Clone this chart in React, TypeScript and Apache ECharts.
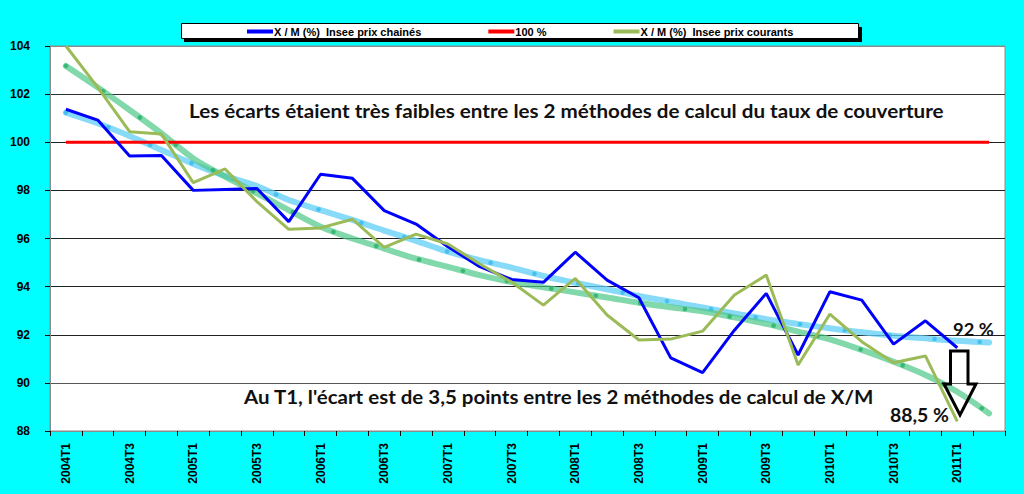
import React, { useEffect, useRef } from "react";
import * as echarts from "echarts";

const categories = [
  "2004T1", "2004T2", "2004T3", "2004T4",
  "2005T1", "2005T2", "2005T3", "2005T4",
  "2006T1", "2006T2", "2006T3", "2006T4",
  "2007T1", "2007T2", "2007T3", "2007T4",
  "2008T1", "2008T2", "2008T3", "2008T4",
  "2009T1", "2009T2", "2009T3", "2009T4",
  "2010T1", "2010T2", "2010T3", "2010T4",
  "2011T1", "2011T2",
];

const chained = [
  101.37, 100.92, 99.43, 99.45, 98.0, 98.04, 98.08, 96.7, 98.67, 98.5,
  97.16, 96.6, 95.66, 94.83, 94.3, 94.18, 95.43, 94.27, 93.54, 91.04,
  90.43, 92.19, 93.72, 91.16, 93.79, 93.44, 91.61, 92.58, 91.46,
];

const current = [
  104.0, 102.28, 100.44, 100.34, 98.32, 98.89, 97.53, 96.38, 96.44, 96.8,
  95.63, 96.18, 95.77, 94.94, 94.19, 93.23, 94.34, 92.82, 91.78, 91.82,
  92.15, 93.65, 94.48, 90.74, 92.86, 91.71, 90.84, 91.12, 88.4,
];

const hundred = [
  100, 100, 100, 100, 100, 100, 100, 100, 100, 100,
  100, 100, 100, 100, 100, 100, 100, 100, 100, 100,
  100, 100, 100, 100, 100, 100, 100, 100, 100, 100,
];

const chainedTrend = [
  101.23, 100.79, 100.26, 99.68, 99.1, 98.6, 98.18, 97.6, 97.18, 96.77,
  96.33, 95.9, 95.45, 95.1, 94.79, 94.44, 94.16, 93.89, 93.61, 93.37,
  93.13, 92.89, 92.65, 92.45, 92.27, 92.1, 91.96, 91.85, 91.75, 91.68,
];

const currentTrend = [
  103.17, 102.28, 101.34, 100.37, 99.33, 98.57, 97.88, 97.18, 96.49, 96.0,
  95.58, 95.16, 94.82, 94.48, 94.19, 93.97, 93.76, 93.55, 93.33, 93.14,
  92.97, 92.72, 92.45, 92.13, 91.81, 91.37, 90.88, 90.33, 89.63, 88.73,
];

const yTicks = { min: 88, max: 104, interval: 2 };

const NAME_CHAINED = "X / M (%)  Insee prix chainés";
const NAME_100 = "100 %";
const NAME_CURRENT = "X / M (%)  Insee prix courants";

const TEXT_TOP = "Les écarts étaient très faibles entre les 2 méthodes de calcul du taux de couverture";
const TEXT_BOTTOM = "Au T1, l'écart est de 3,5 points entre les 2 méthodes de calcul de X/M";

export default function App() {
  const ref = useRef<HTMLDivElement>(null);

  useEffect(() => {
    if (!ref.current) return;
    const chart = echarts.init(ref.current, undefined, { renderer: "svg" });
    const annFont = "Lato, 'Open Sans', sans-serif";
    const option: any = {
      animation: false,
      backgroundColor: "#00FFFF",
      grid: {
        left: 50,
        right: 19,
        top: 46,
        bottom: 63,
        show: true,
        backgroundColor: "#FFFFFF",
        borderColor: "#8c8c8c",
        borderWidth: 1,
      },
      legend: {
        left: 181,
        top: 23,
        padding: [3, 67, 2, 66],
        itemGap: 67,
        itemWidth: 26,
        itemHeight: 4,
        icon: "rect",
        data: [NAME_CHAINED, NAME_100, NAME_CURRENT],
        textStyle: {
          fontFamily: "'Liberation Sans', Arial, sans-serif",
          fontWeight: "bold",
          fontSize: 11,
          color: "#000",
          padding: [0, 0, 0, -4],
        },
      },
      xAxis: {
        type: "category",
        data: categories,
        boundaryGap: true,
        axisLine: { show: true, lineStyle: { color: "#8c8c8c", width: 1 } },
        axisTick: { show: true, length: 5, lineStyle: { color: "#000" }, interval: 0 },
        axisLabel: {
          interval: 1,
          rotate: 90,
          margin: 12,
          fontFamily: "'Liberation Sans', Arial, sans-serif",
          fontWeight: "bold",
          fontSize: 12,
          color: "#000",
        },
        splitLine: { show: false },
      },
      yAxis: {
        type: "value",
        min: yTicks.min,
        max: yTicks.max,
        interval: yTicks.interval,
        axisLine: { show: true, lineStyle: { color: "#8c8c8c", width: 1 } },
        axisTick: { show: true, length: 5, lineStyle: { color: "#000" } },
        axisLabel: {
          margin: 20,
          fontFamily: "'Liberation Sans', Arial, sans-serif",
          fontWeight: "bold",
          fontSize: 12,
          color: "#000",
        },
        splitLine: {
          show: true,
          lineStyle: {
            color: ["#8c8c8c", "#555", "#222", "#222", "#222", "#222", "#222", "#333", "#8c8c8c"],
            width: 1,
          },
        },
      },
      series: [
        {
          name: "trend chained",
          type: "line",
          data: chainedTrend,
          showSymbol: false,
          smooth: 0.3,
          lineStyle: { color: "#5fcdf6", width: 6, opacity: 0.75, cap: "round" },
          z: 2,
        },
        {
          name: "trend chained dots",
          type: "line",
          data: chainedTrend,
          showSymbol: false,
          smooth: 0.3,
          lineStyle: { color: "#2fb8ee", width: 4.5, opacity: 0.75, type: [0.1, 45], cap: "round" },
          z: 2,
        },
        {
          name: "trend current",
          type: "line",
          data: currentTrend,
          showSymbol: false,
          smooth: 0.3,
          lineStyle: { color: "#4cc788", width: 6, opacity: 0.7, cap: "round" },
          z: 2,
        },
        {
          name: "trend current dots",
          type: "line",
          data: currentTrend,
          showSymbol: false,
          smooth: 0.3,
          lineStyle: { color: "#1fae62", width: 4.5, opacity: 0.75, type: [0.1, 45], cap: "round" },
          z: 2,
        },
        {
          name: NAME_100,
          type: "line",
          data: hundred,
          showSymbol: false,
          itemStyle: { color: "#FF0000" },
          lineStyle: { color: "#FF0000", width: 3 },
          z: 3,
        },
        {
          name: NAME_CHAINED,
          type: "line",
          data: chained,
          showSymbol: false,
          itemStyle: { color: "#0000FF" },
          lineStyle: { color: "#0000FF", width: 3 },
          z: 4,
        },
        {
          name: NAME_CURRENT,
          type: "line",
          data: current,
          showSymbol: false,
          itemStyle: { color: "#9BBB59" },
          lineStyle: { color: "#9BBB59", width: 3 },
          z: 4,
        },
      ],
      graphic: [
        {
          type: "rect",
          z: 0,
          shape: { x: 184, y: 27, width: 678, height: 15 },
          style: { fill: "#000" },
        },
        {
          type: "rect",
          z: 1,
          shape: { x: 181.5, y: 23.5, width: 677, height: 15 },
          style: { fill: "#fff", stroke: "#000", lineWidth: 1 },
        },
        {
          type: "text",
          z: 10,
          x: 189,
          y: 110,
          scaleX: 1.086,
          style: {
            text: TEXT_TOP,
            font: `bold 19px ${annFont}`,
            fill: "#111",
            textAlign: "left",
            textVerticalAlign: "middle",
          },
        },
        {
          type: "text",
          z: 10,
          x: 244,
          y: 397,
          scaleX: 1.078,
          style: {
            text: TEXT_BOTTOM,
            font: `bold 19px ${annFont}`,
            fill: "#111",
            textAlign: "left",
            textVerticalAlign: "middle",
          },
        },
        {
          type: "text",
          z: 10,
          x: 953,
          y: 330,
          scaleX: 1.08,
          style: {
            text: "92 %",
            font: `bold 17px ${annFont}`,
            fill: "#111",
            textAlign: "left",
            textVerticalAlign: "middle",
          },
        },
        {
          type: "text",
          z: 10,
          x: 890,
          y: 415,
          scaleX: 1.08,
          style: {
            text: "88,5 %",
            font: `bold 18px ${annFont}`,
            fill: "#111",
            textAlign: "left",
            textVerticalAlign: "middle",
          },
        },
        {
          type: "polygon",
          z: 10,
          shape: {
            points: [
              [950.5, 351],
              [968, 351],
              [968, 384],
              [976, 384],
              [960, 415],
              [944, 384],
              [950.5, 384],
            ],
          },
          style: { fill: "transparent", stroke: "#000", lineWidth: 3, lineJoin: "miter" },
        },
      ],
    };
    chart.setOption(option);
    return () => chart.dispose();
  }, []);

  return (
    <div
      ref={ref}
      style={{ position: "fixed", left: 0, top: 0, width: 1024, height: 494 }}
    />
  );
}
